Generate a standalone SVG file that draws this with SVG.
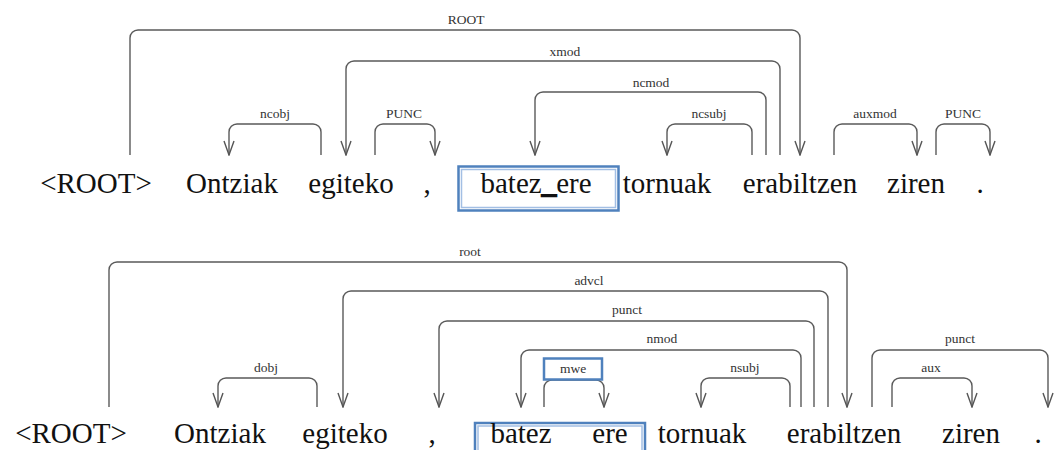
<svg xmlns="http://www.w3.org/2000/svg" width="1056" height="450" viewBox="0 0 1056 450">
<defs>
<marker id="arr" viewBox="0 0 16 12" refX="15" refY="6" markerWidth="16" markerHeight="12" markerUnits="userSpaceOnUse" orient="auto">
<path d="M1,1 L15,6 L1,11" fill="none" stroke="#555" stroke-width="1.4"/>
</marker>
<style>
.arc{fill:none;stroke:#5a5a5a;stroke-width:1.4}
.arcA{fill:none;stroke:#5a5a5a;stroke-width:1.4;marker-end:url(#arr)}
.lbl{font-family:"Liberation Serif",serif;font-size:13.5px;fill:#333;text-anchor:middle}
.w{font-family:"Liberation Serif",serif;font-size:29px;fill:#111;text-anchor:middle}
.box{fill:none;stroke:#4f81bd;stroke-width:2.5}
.boxin{fill:none;stroke:#a3bfe4;stroke-width:1.5}
</style>
</defs>
<rect width="1056" height="450" fill="#fff"/>

<!-- Top sentence -->
<g id="top-words">
<g id="t-root"><text class="w" x="96" y="193">&lt;ROOT&gt;</text></g>
<g id="t-ontziak"><text class="w" x="232" y="193">Ontziak</text></g>
<g id="t-egiteko"><text class="w" x="351" y="193">egiteko</text></g>
<g id="t-comma"><text class="w" x="427" y="193">,</text></g>
<g id="t-batez_ere">
<rect class="box" x="458.5" y="166.5" width="160" height="44"/>
<rect class="boxin" x="461.5" y="169.5" width="154" height="38"/>
<text class="w" x="536" y="193">batez<tspan stroke="#111" stroke-width="1.6">_</tspan>ere</text>
</g>
<g id="t-tornuak"><text class="w" x="667" y="193">tornuak</text></g>
<g id="t-erabiltzen"><text class="w" x="800" y="193">erabiltzen</text></g>
<g id="t-ziren"><text class="w" x="916" y="193">ziren</text></g>
<g id="t-dot"><text class="w" x="980" y="193">.</text></g>
</g>

<g id="top-connectors">
<path class="arcA" d="M130,155 V38 A8,8 0 0 1 138,30 H792 A8,8 0 0 1 800,38 V155"/>
<text class="lbl" x="466" y="24">ROOT</text>
<path class="arcA" d="M780,155 V69 A8,8 0 0 0 772,61 H354 A8,8 0 0 0 346,69 V155"/>
<text class="lbl" x="565" y="56">xmod</text>
<path class="arcA" d="M766,155 V100 A8,8 0 0 0 758,92 H543 A8,8 0 0 0 535,100 V155"/>
<text class="lbl" x="651" y="87">ncmod</text>
<path class="arcA" d="M752,155 V132 A8,8 0 0 0 744,124 H675 A8,8 0 0 0 667,132 V155"/>
<text class="lbl" x="709" y="118">ncsubj</text>
<path class="arcA" d="M321,155 V132 A8,8 0 0 0 313,124 H237 A8,8 0 0 0 229,132 V155"/>
<text class="lbl" x="275" y="118">ncobj</text>
<path class="arcA" d="M375,155 V132 A8,8 0 0 1 383,124 H427 A8,8 0 0 1 435,132 V155"/>
<text class="lbl" x="404" y="118">PUNC</text>
<path class="arcA" d="M834,155 V132 A8,8 0 0 1 842,124 H909 A8,8 0 0 1 917,132 V155"/>
<text class="lbl" x="875" y="118">auxmod</text>
<path class="arcA" d="M936,155 V132 A8,8 0 0 1 944,124 H982 A8,8 0 0 1 990,132 V155"/>
<text class="lbl" x="963" y="118">PUNC</text>
</g>

<!-- Bottom sentence -->
<g id="bottom-words">
<g id="b-root"><text class="w" x="71" y="443">&lt;ROOT&gt;</text></g>
<g id="b-ontziak"><text class="w" x="220" y="443">Ontziak</text></g>
<g id="b-egiteko"><text class="w" x="345" y="443">egiteko</text></g>
<g id="b-comma"><text class="w" x="432" y="443">,</text></g>
<g id="b-batez-ere">
<rect class="box" x="475" y="423" width="170" height="44"/>
<rect class="boxin" x="478" y="426" width="164" height="38"/>
<text class="w" x="521" y="443">batez</text>
<text class="w" x="610" y="443">ere</text>
</g>
<g id="b-tornuak"><text class="w" x="702" y="443">tornuak</text></g>
<g id="b-erabiltzen"><text class="w" x="844" y="443">erabiltzen</text></g>
<g id="b-ziren"><text class="w" x="971" y="443">ziren</text></g>
<g id="b-dot"><text class="w" x="1038" y="443">.</text></g>
</g>

<g id="bottom-connectors">
<path class="arcA" d="M109,407 V270 A8,8 0 0 1 117,262 H839 A8,8 0 0 1 847,270 V407"/>
<text class="lbl" x="470" y="256">root</text>
<path class="arcA" d="M828,407 V299 A8,8 0 0 0 820,291 H351 A8,8 0 0 0 343,299 V407"/>
<text class="lbl" x="589" y="285">advcl</text>
<path class="arcA" d="M814,407 V329 A8,8 0 0 0 806,321 H447 A8,8 0 0 0 439,329 V407"/>
<text class="lbl" x="627" y="314">punct</text>
<path class="arcA" d="M801,407 V358 A8,8 0 0 0 793,350 H529 A8,8 0 0 0 521,358 V407"/>
<text class="lbl" x="662" y="343">nmod</text>
<path class="arcA" d="M544,407 V388 A8,8 0 0 1 552,380 H596 A8,8 0 0 1 604,388 V407"/>
<rect class="box" x="544" y="358.5" width="58" height="21" stroke-width="2.5"/>
<text class="lbl" x="573" y="373">mwe</text>
<path class="arcA" d="M790,407 V386 A8,8 0 0 0 782,378 H709 A8,8 0 0 0 701,386 V407"/>
<text class="lbl" x="745" y="372">nsubj</text>
<path class="arcA" d="M317,407 V386 A8,8 0 0 0 309,378 H226 A8,8 0 0 0 218,386 V407"/>
<text class="lbl" x="266" y="372">dobj</text>
<path class="arcA" d="M872,407 V358 A8,8 0 0 1 880,350 H1040 A8,8 0 0 1 1048,358 V407"/>
<text class="lbl" x="960" y="343">punct</text>
<path class="arcA" d="M892,407 V386 A8,8 0 0 1 900,378 H964 A8,8 0 0 1 972,386 V407"/>
<text class="lbl" x="931" y="372">aux</text>
</g>
</svg>
